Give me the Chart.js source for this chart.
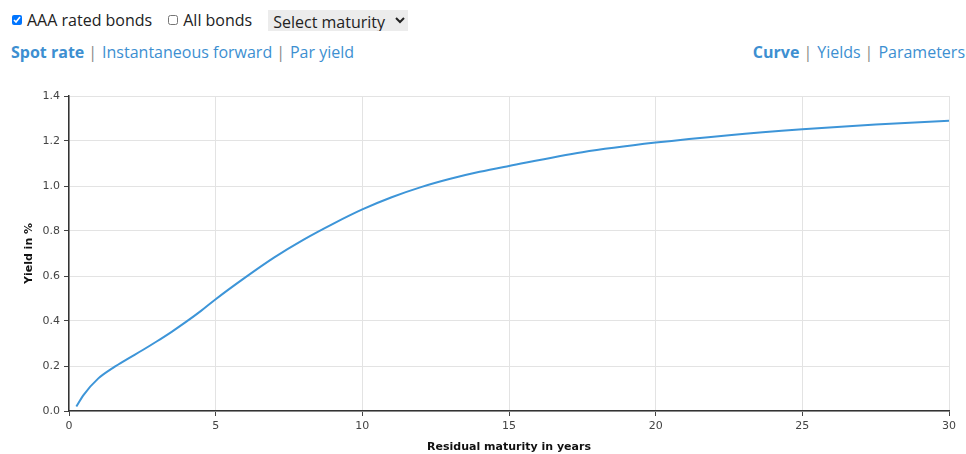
<!DOCTYPE html>
<html>
<head>
<meta charset="utf-8">
<script src="https://cdn.jsdelivr.net/npm/chart.js@4"></script>
<style>
    body { margin: 0; background: #fff; font-family: 'Open Sans', 'Noto Sans', sans-serif; color: #222; }
    #controls { position: absolute; left: 10px; top: 9px; font-size: 16px; display: flex; align-items: center; }
    #controls label { display: flex; align-items: center; margin-right: 14px; }
    #controls input { width: 10px; height: 10px; margin: 0 5px 0 2px; }
    #controls select { font-family: inherit; font-size: 16px; background: #ececec; border: none; padding: 0 0 0 1px; width: 140px; height: 21px; margin-left: 2px; color: #222; }
    .links { position: absolute; top: 41px; font-size: 16px; color: #3d8fd1; }
    .links b { font-weight: 700; }
    .links .sep { color: #888; margin: 0 5px 0 4px; }
    #chart-wrap { position: absolute; left: 0; top: 80px; width: 966px; height: 374px; }
</style>
</head>
<body>
<div id="controls">
    <label><input type="checkbox" checked>AAA rated bonds</label>
    <label><input type="checkbox">All bonds</label>
    <select><option>Select maturity</option></select>
</div>
<div class="links" style="left:11px"><b>Spot rate</b><span class="sep">|</span>Instantaneous forward<span class="sep">|</span>Par yield</div>
<div class="links" style="right:1px"><b>Curve</b><span class="sep">|</span>Yields<span class="sep">|</span>Parameters</div>
<div id="chart-wrap"><canvas id="yield-chart"></canvas></div>
<script>
const maturities = [0.25, 0.5, 1, 1.5, 2, 2.5, 3, 3.5, 4, 4.5, 5, 6, 7, 8, 9, 10, 11, 12, 13, 14, 15, 17.5, 20, 22.5, 25, 27.5, 30];
const spotRates = [0.02, 0.072, 0.145, 0.192, 0.232, 0.27, 0.31, 0.352, 0.397, 0.445, 0.497, 0.593, 0.683, 0.762, 0.832, 0.896, 0.95, 0.995, 1.032, 1.063, 1.089, 1.15, 1.193, 1.226, 1.252, 1.273, 1.29];
const xTicks = [0, 5, 10, 15, 20, 25, 30];
const yTicks = [0, 0.2, 0.4, 0.6, 0.8, 1.0, 1.2, 1.4];

const points = maturities.map((m, i) => ({ x: m, y: spotRates[i] }));
const tickFont = { family: 'Verdana, "DejaVu Sans", sans-serif', size: 11 };
const titleFont = { family: 'Verdana, "DejaVu Sans", sans-serif', size: 11, weight: 'bold' };

const ctx = document.getElementById('yield-chart').getContext('2d');
new Chart(ctx, {
    type: 'line',
    data: {
        datasets: [{
            label: 'Spot rate',
            data: points,
            borderColor: '#3d95d8',
            borderWidth: 2,
            pointRadius: 0,
            cubicInterpolationMode: 'monotone',
            fill: false
        }]
    },
    options: {
        responsive: true,
        maintainAspectRatio: false,
        animation: false,
        layout: { padding: { top: 16, right: 17, left: 23, bottom: 0 } },
        plugins: { legend: { display: false }, tooltip: { enabled: false } },
        scales: {
            x: {
                type: 'linear',
                min: 0,
                max: 30,
                afterBuildTicks: scale => { scale.ticks = xTicks.map(v => ({ value: v })); },
                afterFit: scale => { scale.height = 43; },
                grid: { color: '#e3e3e3', tickColor: '#444', tickLength: 5 },
                border: { color: '#333', width: 1.5 },
                ticks: { color: '#444', font: tickFont, padding: 4 },
                title: { display: true, text: 'Residual maturity in years', color: '#111', font: titleFont, padding: { top: 2, bottom: 0 } }
            },
            y: {
                min: 0,
                max: 1.4,
                afterBuildTicks: scale => { scale.ticks = yTicks.map(v => ({ value: v })); },
                afterFit: scale => { scale.width = 46; },
                grid: { color: '#e3e3e3', tickColor: '#444', tickLength: 5 },
                border: { color: '#333', width: 1.5 },
                ticks: { color: '#444', font: tickFont, padding: 4, callback: v => v.toFixed(1) },
                title: { display: true, text: 'Yield in %', color: '#111', font: titleFont, padding: { top: 0, bottom: 0 } }
            }
        }
    }
});
</script>
</body>
</html>
